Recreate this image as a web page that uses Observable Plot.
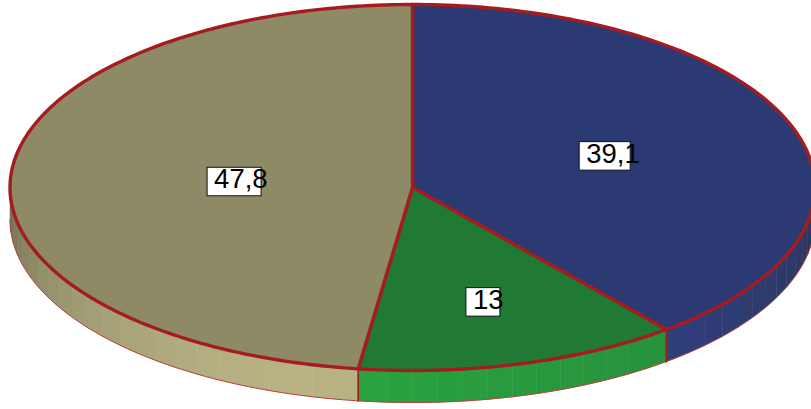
<!DOCTYPE html>
<html>
<head>
<meta charset="utf-8">
<script src="https://cdn.jsdelivr.net/npm/d3@7"></script>
<script src="https://cdn.jsdelivr.net/npm/@observablehq/plot@0.6"></script>
<style>
  html, body { margin: 0; padding: 0; background: #fff; }
  svg { display: block; }
</style>
</head>
<body>
<div id="chart"></div>
<script>
// Slice values, clockwise from twelve o'clock
const sliceNames = ["azul", "verde", "oliva"];
const sliceValues = [39.1, 13, 47.8];

// Colours of each slice: the top face, and the rim at its two ends
const topColors = ["#2b3a73", "#207a33", "#8f8a66"];
const rimFrom = ["#2c3658", "#27913c", "#b9b384"];
const rimTo = ["#2f3f7c", "#2aa340", "#6e6c50"];

// Label placement: distance from the centre as a share of the radius, box size in pixels
const labelRadius = [0.508, 0.652, 0.443];
const boxWidth = [51, 34, 54];
const boxHeight = 28.5;

const width = 811, height = 409;
const xRange = [9.5, 814.5], yRange = [4, 370];
const rx = (xRange[1] - xRange[0]) / 2, ry = (yRange[1] - yRange[0]) / 2;
const rimDepth = 32 / ry;       // rim thickness in y units
const facetStep = 3.6;          // rim facet width, degrees

const total = d3.sum(sliceValues);
const rad = d => d * Math.PI / 180;
const px = a => Math.sin(rad(a));
const py = a => Math.cos(rad(a));

// Start and end angle of every slice
let acc = 0;
const slices = sliceValues.map((v, i) => {
  const a0 = acc; acc += v / total * 360;
  return {i, name: sliceNames[i], value: v, a0, a1: acc};
});

// Top faces: centre, then the arc, closed by the line mark
const topPoints = slices.flatMap(s => {
  const n = Math.ceil(s.a1 - s.a0);
  const arc = d3.range(n + 1).map(k => s.a0 + (s.a1 - s.a0) * k / n);
  return [{x: 0, y: 0, slice: s.name, fill: topColors[s.i]},
          ...arc.map(a => ({x: px(a), y: py(a), slice: s.name, fill: topColors[s.i]}))];
});

// Rim facets on the visible front half of the disc
const facetPoints = [];
for (const s of slices) {
  const lo = Math.max(s.a0, 90), hi = Math.min(s.a1, 270);
  if (hi <= lo) continue;
  const cuts = [lo];
  for (let g = Math.ceil(lo / facetStep + 1e-6) * facetStep; g < hi - 1e-6; g += facetStep) cuts.push(g);
  cuts.push(hi);
  const shade = d3.interpolateRgb(rimFrom[s.i], rimTo[s.i]);
  const isOlive = s.i === 2;
  for (let k = 0; k + 1 < cuts.length; k++) {
    const a = cuts[k], b = cuts[k + 1];
    const t = (((a + b) / 2) - lo) / (hi - lo);
    const fill = shade(isOlive ? t * t : t);
    const id = `${s.name}-${k}`;
    for (const [ang, drop] of [[a, 0], [b, 0], [b, 1], [a, 1]]) {
      facetPoints.push({x: px(ang), y: py(ang) - drop * rimDepth, facet: id, fill});
    }
  }
}

// Lower outline of the rim
const lowerEdge = d3.range(90, 271).map(a => ({x: px(a), y: py(a) - rimDepth}));

// Vertical seams where slices meet on the rim
const seams = slices
  .filter(s => s.a1 > 90 && s.a1 < 270)
  .flatMap(s => [0, 1].map(drop => ({x: px(s.a1), y: py(s.a1) - drop * rimDepth, seam: s.name})));

// Value labels and their boxes
const labels = slices.map(s => {
  const mid = (s.a0 + s.a1) / 2, r = labelRadius[s.i];
  const cx = r * px(mid), cy = r * py(mid);
  const hw = boxWidth[s.i] / 2 / rx, hh = boxHeight / 2 / ry;
  return {
    text: String(s.value).replace(".", ","),
    cy, left: cx - hw, right: cx + hw, bottom: cy - hh, top: cy + hh
  };
});

const font = "'Liberation Sans', Arial, sans-serif";

const chart = Plot.plot({
  width, height,
  margin: 0,
  style: {background: "#fff", overflow: "hidden"},
  x: {domain: [-1, 1], range: xRange, axis: null},
  y: {domain: [1, -1], range: yRange, axis: null},
  color: {type: "identity"},
  marks: [
    Plot.line(facetPoints, {
      x: "x", y: "y", z: "facet", fill: "fill", stroke: "fill",
      strokeWidth: 0.6, curve: "linear-closed"
    }),
    Plot.line(lowerEdge, {x: "x", y: "y", stroke: "#b8403f", strokeWidth: 1}),
    Plot.line(seams, {x: "x", y: "y", z: "seam", stroke: "#a51c20", strokeWidth: 1.8}),
    Plot.line(topPoints, {
      x: "x", y: "y", z: "slice", fill: "fill", stroke: "#a51c20",
      strokeWidth: 3.4, strokeLinejoin: "round", curve: "linear-closed"
    }),
    Plot.rect(labels, {
      x1: "left", x2: "right", y1: "bottom", y2: "top",
      fill: "#fff", stroke: "#111", strokeWidth: 1
    }),
    Plot.text(labels, {
      x: "left", y: "cy", text: "text", dx: 6.5, dy: -2.5,
      textAnchor: "start", fill: "#000", fontSize: 27.5, fontFamily: font
    })
  ]
});
document.getElementById("chart").appendChild(chart);
</script>
</body>
</html>
